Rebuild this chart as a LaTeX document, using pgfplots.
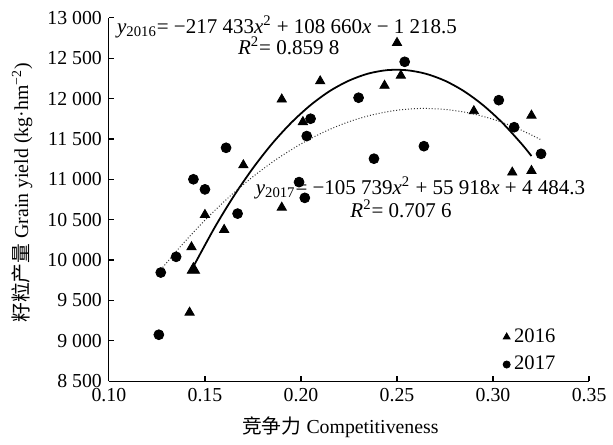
\documentclass[border=0pt]{standalone}
\usepackage{fontspec}
\setmainfont{Liberation Serif}
\newfontfamily\cjk{Noto Sans CJK SC}
\usepackage{pgfplots}
\pgfplotsset{compat=1.18}

\begin{document}
\begin{tikzpicture}
\begin{axis}[
  scale only axis,
  width=242.5pt, height=183.5pt,
  axis x line*=bottom, axis y line*=left,
  axis line style={-, line width=0.6pt},
  xmin=0.10, xmax=0.35, ymin=8500, ymax=13000,
  xtick={0.10,0.15,0.20,0.25,0.30,0.35},
  ytick={8500,9000,9500,10000,10500,11000,11500,12000,12500,13000},
  tick align=inside,
  major tick length=2.5pt,
  tick style={black, line width=0.6pt},
  scaled ticks=false,
  x tick label style={/pgf/number format/.cd, fixed, fixed zerofill, precision=2, assume math mode=true},
  y tick label style={/pgf/number format/.cd, fixed, 1000 sep={~}, assume math mode=true},
  xlabel={{\cjk 竞争力} Competitiveness},
  ylabel={{\cjk 籽粒产量} Grain yield (kg·hm\textsuperscript{−2})},
  every axis x label/.style={at={(rel axis cs:0.482,-0.128)}, anchor=center},
  every axis y label/.style={at={(rel axis cs:-0.181,0.518)}, rotate=90, anchor=center},
  clip=false,
  legend style={at={(rel axis cs:0.816,0.162)}, anchor=north west, draw=none, fill=none,
    row sep=1.5pt, inner sep=1pt, font=\fontsize{10.4}{12}\selectfont},
  legend cell align=left,
]
%% 2016 observations
\addplot[only marks, mark=triangle*, mark size=2.7pt, black,
  legend image post style={mark size=2pt}] coordinates {
  (0.150,10560) (0.160,10375) (0.143,10160) (0.1440,9890)
  (0.142,9350) (0.210,12215) (0.190,11990) (0.201,11710) (0.170,11175)
  (0.190,10650) (0.250,12690) (0.252,12285) (0.2435,12160) (0.290,11845)
  (0.320,11790) (0.310,11085) (0.320,11105)
};
\addlegendentry{2016}
%% 2017 observations
\addplot[only marks, mark=*, mark size=2.5pt, black,
  legend image post style={mark size=1.8pt}] coordinates {
  (0.144,11000) (0.150,10875) (0.135,10040) (0.127,9845) (0.126,9075)
  (0.205,11750) (0.203,11535) (0.161,11390) (0.199,10965) (0.202,10770)
  (0.167,10575) (0.254,12455) (0.230,12010) (0.303,11980) (0.311,11645)
  (0.325,11315) (0.264,11410) (0.238,11255)
};
\addlegendentry{2017}
%% 2016 point drawn larger in the reference
\addplot[only marks, mark=triangle*, mark size=3.6pt, black, forget plot] coordinates {
  (0.1440,9880)
};
%% fitted curves (values of the printed equations)
\addplot[black, line width=0.9pt, smooth, forget plot] coordinates {
  (0.144,9920) (0.155,10400) (0.165,10791) (0.175,11138) (0.185,11442)
  (0.195,11702) (0.205,11919) (0.215,12093) (0.225,12222) (0.235,12309)
  (0.245,12352) (0.255,12351) (0.265,12307) (0.275,12220) (0.285,12089)
  (0.295,11914) (0.305,11696) (0.315,11435) (0.320,11288)
};
\addplot[black!80, line width=0.5pt, densely dotted, smooth, forget plot] coordinates {
  (0.125,9822) (0.1375,10174) (0.150,10493) (0.1625,10779) (0.175,11032)
  (0.1875,11252) (0.200,11438) (0.2125,11592) (0.225,11713) (0.2375,11800)
  (0.250,11855) (0.2625,11877) (0.275,11865) (0.2875,11821) (0.300,11743)
  (0.3125,11633) (0.325,11489)
};
\node[anchor=west, inner sep=0pt, font=\fontsize{10.6}{12}\selectfont] at (axis cs:0.1041,12890)
  {{\itshape y}\textsubscript{2016}= −217~433{\itshape x}\textsuperscript{2} + 108~660{\itshape x} − 1~218.5};
\node[inner sep=0pt, font=\fontsize{10.6}{12}\selectfont] at (axis cs:0.1936,12650)
  {{\itshape R}\textsuperscript{2}= 0.859~8};
\node[anchor=west, inner sep=0pt, font=\fontsize{10.6}{12}\selectfont] at (axis cs:0.1763,10890)
  {{\itshape y}\textsubscript{2017}= −105~739{\itshape x}\textsuperscript{2} + 55~918{\itshape x} + 4~484.3};
\node[inner sep=0pt, font=\fontsize{10.6}{12}\selectfont] at (axis cs:0.2521,10630)
  {{\itshape R}\textsuperscript{2}= 0.707~6};
\path (rel axis cs:-0.2268,-0.158) rectangle (rel axis cs:1.0371,1.049);
\end{axis}
\end{tikzpicture}
\end{document}
